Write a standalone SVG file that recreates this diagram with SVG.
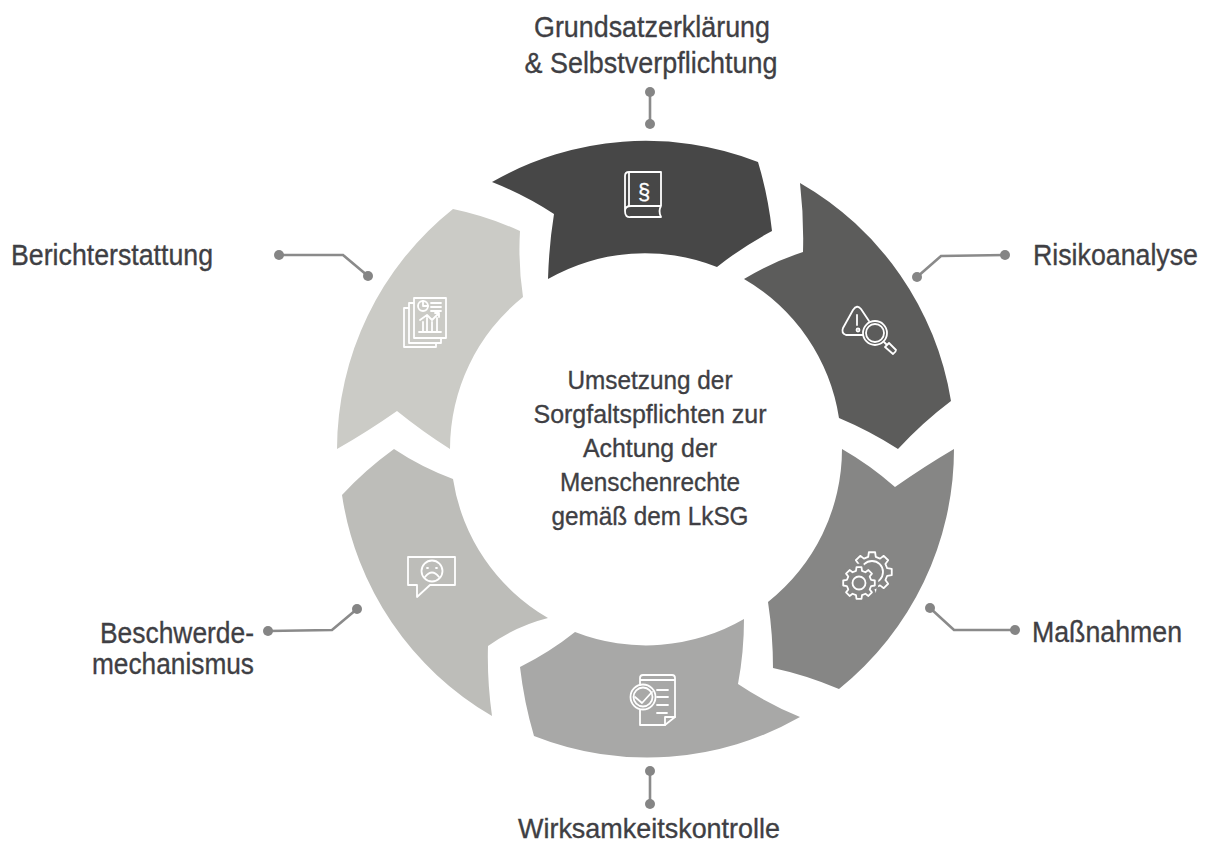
<svg xmlns="http://www.w3.org/2000/svg" width="1206" height="843" viewBox="0 0 1206 843">
<style>
text{font-family:"Liberation Sans",Arial,sans-serif;fill:#3f3f44;stroke:#3f3f44;stroke-width:.35;font-size:30px}
.c{font-size:26px}
.ln{fill:none;stroke:#8a8a8a;stroke-width:2.6}
.dot{fill:#858585}
.ic{fill:none;stroke:#fff;stroke-width:1.8;stroke-linecap:round;stroke-linejoin:round}
</style>
<defs>
<polygon id="gear" points="12.13,-3.02 15.8,-2.5 15.8,2.5 12.13,3.02 10.71,6.44 12.94,9.4 9.4,12.94 6.44,10.71 3.02,12.13 2.5,15.8 -2.5,15.8 -3.02,12.13 -6.44,10.71 -9.4,12.94 -12.94,9.4 -10.71,6.44 -12.13,3.02 -15.8,2.5 -15.8,-2.5 -12.13,-3.02 -10.71,-6.44 -12.94,-9.4 -9.4,-12.94 -6.44,-10.71 -3.02,-12.13 -2.5,-15.8 2.5,-15.8 3.02,-12.13 6.44,-10.71 9.4,-12.94 12.94,-9.4 10.71,-6.44"/>
</defs>
<rect width="1206" height="843" fill="#fff"/>
<g id="connectors">
<path class="ln" d="M650 92V124"/><circle class="dot" cx="650" cy="92" r="5"/><circle class="dot" cx="650" cy="124" r="5"/>
<path class="ln" d="M1005 255L941 256L917 277"/><circle class="dot" cx="1005" cy="255" r="5"/><circle class="dot" cx="917" cy="277" r="5"/>
<path class="ln" d="M930 608L954 630H1015"/><circle class="dot" cx="930" cy="608" r="5"/><circle class="dot" cx="1015" cy="630" r="5"/>
<path class="ln" d="M650 771V804"/><circle class="dot" cx="650" cy="771" r="5"/><circle class="dot" cx="650" cy="804" r="5"/>
<path class="ln" d="M268 631L332 630L357 609"/><circle class="dot" cx="268" cy="631" r="5"/><circle class="dot" cx="357" cy="609" r="5"/>
<path class="ln" d="M279 255H343L368 276"/><circle class="dot" cx="279" cy="255" r="5"/><circle class="dot" cx="368" cy="276" r="5"/>
</g>
<g id="node1"><path fill="#474747" d="M492 182A308 308 0 0 1 758 162Q768 195 772 231Q742 247 717 267A195 195 0 0 0 548 279Q549 245 554 214Q525 195 492 182Z"/>
<g class="ic"><path d="M625 211V176Q625 172 629 172H661V206H631Q625 206 625 211Q625 218 631 217H661Q658 211 661 206M629 172V206"/></g>
<text x="644" y="199" text-anchor="middle" style="font-size:22px;fill:#fff;stroke:#fff;stroke-width:.3">§</text></g>
<g id="node2"><path fill="#5c5c5b" d="M800 183A308 308 0 0 1 951 401Q923 422 898 449Q870 431 839 418A195 195 0 0 0 744 279Q772 262 803 252Q804 218 800 183Z"/>
<g class="ic"><path d="M863 335H846Q841 333 843 328L853 310Q857 304 861 309L869 321"/><path d="M857 315V325"/><circle cx="858" cy="330" r="1.5"/><circle cx="875" cy="333" r="12"/><circle cx="875" cy="333" r="9"/><path d="M884 342L887 345M885 347L889 343L896 350Q896 352 893 354Z"/></g></g>
<g id="node3"><path fill="#868685" d="M842 449Q870 465 895 487Q925 466 954 449A308 308 0 0 1 839 689Q806 675 773 668Q773 635 768 602A195 195 0 0 0 842 449Z"/>
<g class="ic">
<use href="#gear" transform="translate(872 572) scale(1.25)" stroke-width="1.45"/>
<circle cx="872" cy="572" r="11"/>
<use href="#gear" transform="translate(859 583)" fill="#868685" stroke="#868685" stroke-width="7"/>
<use href="#gear" transform="translate(859 583)"/>
<circle cx="859" cy="583" r="6.5"/></g></g>
<g id="node4"><path fill="#a8a8a7" d="M575 632A195 195 0 0 0 744 619Q744 652 738 684Q768 704 800 717A308 308 0 0 1 534 736Q524 702 520 667Q550 652 575 632Z"/>
<g class="ic"><path d="M640 685V678Q640 675 643 675H672Q675 675 675 678V717L665 725H640V710M640 680H675"/><circle cx="643" cy="697" r="12.5"/><circle cx="643" cy="697" r="9.5"/><path d="M635 697L642 703L652 692"/><path d="M657 690H668M657 697H668M657 705H668M657 713H667M665 725V717H675"/></g></g>
<g id="node5"><path fill="#bdbdb9" d="M394 449Q421 467 453 479A195 195 0 0 0 548 618Q516 626 488 646Q487 680 492 716A308 308 0 0 1 342 495Q365 470 394 449Z"/>
<g class="ic"><path d="M408 557H455V585H430L417 597V585H408Z"/><circle cx="432" cy="571" r="10.5"/><path d="M425 577Q432 568 439 577M427 568H428M436 568H437"/></g></g>
<g id="node6"><path fill="#cbcbc6" d="M453 209Q487 216 520 231Q518 264 523 297A195 195 0 0 0 450 449Q423 432 397 411Q367 432 337 449A308 308 0 0 1 453 209Z"/>
<g class="ic"><path d="M414 298H446V338H414Z"/><path d="M414 303H409V343H441V338M409 308H404V347H436V343"/><circle cx="423" cy="306" r="5"/><path d="M423 306V301M423 306H428"/><path d="M431 303H441M431 307H441M431 311H441"/><path d="M420 320L427 315L432 320L439 313M435 313H439V317M423 332V322M427 332V318M432 332V322M437 332V318M419 332H441"/></g></g>
<g id="labels">
<text x="652" y="36.5" text-anchor="middle" textLength="236" lengthAdjust="spacingAndGlyphs">Grundsatzerklärung</text>
<text x="651" y="72.5" text-anchor="middle" textLength="253" lengthAdjust="spacingAndGlyphs">&amp; Selbstverpflichtung</text>
<text transform="translate(1033 265) scale(.892 1)">Risikoanalyse</text>
<text x="1032" y="642" textLength="150" lengthAdjust="spacingAndGlyphs">Maßnahmen</text>
<text x="649" y="838" text-anchor="middle" textLength="262" lengthAdjust="spacingAndGlyphs" style="font-size:28px">Wirksamkeitskontrolle</text>
<text x="100" y="643" textLength="154" lengthAdjust="spacingAndGlyphs">Beschwerde-</text>
<text x="92" y="673.5" textLength="162" lengthAdjust="spacingAndGlyphs">mechanismus</text>
<text x="11" y="265" textLength="202" lengthAdjust="spacingAndGlyphs">Berichterstattung</text>
</g>
<g id="center">
<text class="c" x="650" y="388.5" text-anchor="middle" textLength="165" lengthAdjust="spacingAndGlyphs">Umsetzung der</text>
<text class="c" x="650" y="422.5" text-anchor="middle" textLength="233" lengthAdjust="spacingAndGlyphs">Sorgfaltspflichten zur</text>
<text class="c" x="650" y="456.5" text-anchor="middle" textLength="134" lengthAdjust="spacingAndGlyphs">Achtung der</text>
<text class="c" x="650" y="490.5" text-anchor="middle" textLength="180" lengthAdjust="spacingAndGlyphs">Menschenrechte</text>
<text class="c" x="650" y="524.5" text-anchor="middle" textLength="197" lengthAdjust="spacingAndGlyphs">gemäß dem LkSG</text>
</g>
</svg>
